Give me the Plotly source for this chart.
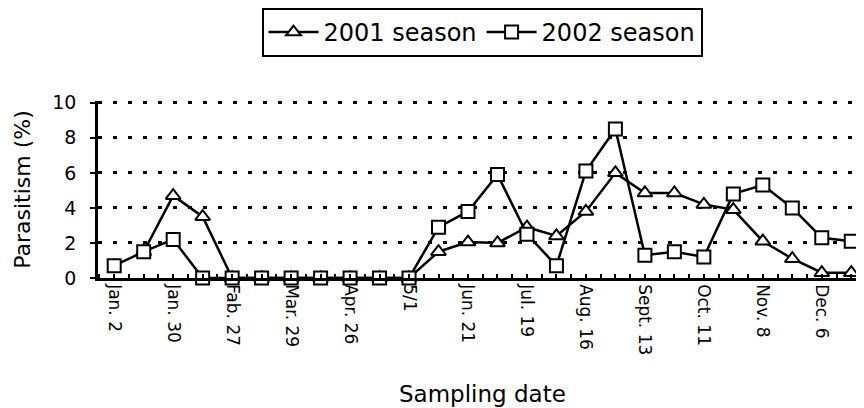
import plotly.graph_objects as go

# Sampling dates: labels shown for every other sampling point
tick_labels = ["Jan. 2", "Jan. 30", "Fab. 27", "Mar. 29", "Apr. 26", "5/1",
               "Jun. 21", "Jul. 19", "Aug. 16", "Sept. 13", "Oct. 11", "Nov. 8", "Dec. 6"]

# Parasitism (%) per sampling point (26 points, every two weeks)
season_2001 = [None, 1.5, 4.7, 3.5, 0, 0, 0, 0, 0, 0, 0,
               1.5, 2.05, 2.0, 2.9, 2.4, 3.8, 6.0, 4.85, 4.85, 4.2, 3.9, 2.1, 1.1, 0.3, 0.3]
season_2002 = [0.7, 1.5, 2.2, 0, 0, 0, 0, 0, 0, 0, 0,
               2.9, 3.8, 5.9, 2.5, 0.7, 6.1, 8.5, 1.3, 1.5, 1.2, 4.8, 5.3, 4.0, 2.3, 2.1]

samples = list(range(len(season_2002)))
tickvals = samples[::2]

FONT = "DejaVu Sans"

fig = go.Figure()
fig.add_trace(go.Scatter(
    x=samples, y=season_2001, name="2001 season", mode="lines+markers",
    line=dict(color="black", width=2.5),
    marker=dict(symbol="triangle-up", size=13, color="white",
                line=dict(color="black", width=2)),
    cliponaxis=False,
))
fig.add_trace(go.Scatter(
    x=samples, y=season_2002, name="2002 season", mode="lines+markers",
    line=dict(color="black", width=2.5),
    marker=dict(symbol="square", size=13, color="white",
                line=dict(color="black", width=2)),
    cliponaxis=False,
))

fig.update_layout(
    width=864, height=408,
    margin=dict(l=90, r=6, t=93, b=138),
    paper_bgcolor="white", plot_bgcolor="white",
    font=dict(family=FONT, color="black"),
    showlegend=True,
    legend=dict(
        orientation="h", x=0.5, xanchor="center",
        yref="container", y=1.0, yanchor="top",
        font=dict(family=FONT, size=24, color="black"),
        bordercolor="black", borderwidth=2, bgcolor="white",
        itemwidth=50,
    ),
    xaxis=dict(
        range=[-0.55, 25.5], showgrid=False, zeroline=False, automargin=False,
        showline=True, linecolor="black", linewidth=2.5,
        tickmode="array", tickvals=tickvals, ticktext=tick_labels,
        ticks="inside", ticklen=4, tickwidth=1.5, tickcolor="black",
        tickangle=90, tickfont=dict(family=FONT, size=17, color="black"),
        minor=dict(ticks="inside", ticklen=4, tickwidth=1.5, tickcolor="black",
                   tickvals=[k * 0.5 for k in range(-1, 52)], showgrid=False),
    ),
    yaxis=dict(
        range=[0, 10.1], tickvals=[0, 2, 4, 6, 8, 10], zeroline=False,
        showline=True, linecolor="black", linewidth=2.5,
        ticks="outside", ticklen=5, tickwidth=1.5, tickcolor="black",
        ticklabelstandoff=10,
        tickfont=dict(family=FONT, size=19, color="black"),
        showgrid=True, gridcolor="black", gridwidth=3, griddash="4px,11px",
        title=dict(text="Parasitism (%)", font=dict(family=FONT, size=22, color="black"),
                   standoff=16),
        automargin=False,
    ),
    annotations=[dict(
        text="Sampling date", xref="paper", yref="paper", x=0.5, y=-0.655,
        xanchor="center", yanchor="middle", showarrow=False,
        font=dict(family=FONT, size=23, color="black"),
    )],
)

fig.write_html("out.html")
